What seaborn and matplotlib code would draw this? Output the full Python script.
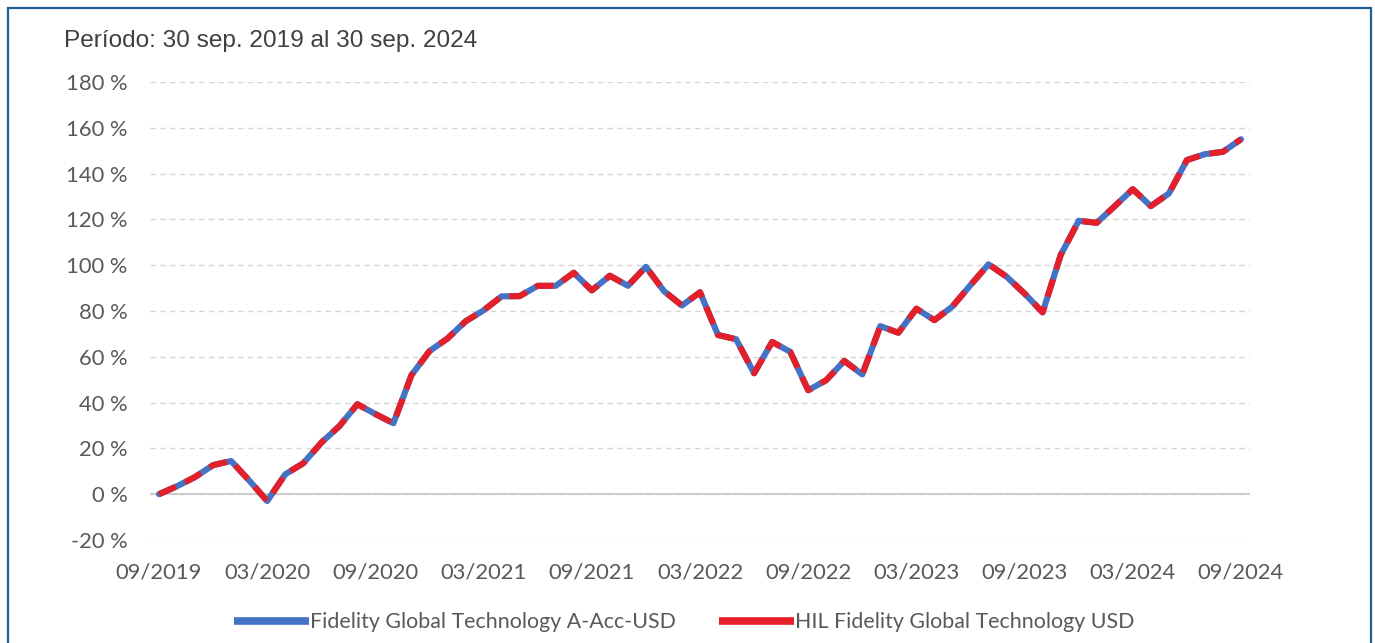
import matplotlib
matplotlib.use("Agg")
import matplotlib.pyplot as plt
from matplotlib.lines import Line2D
from matplotlib.patches import Rectangle
import seaborn as sns
import pandas as pd
import numpy as np

# ---------------- data ----------------
months = list(range(61))  # 0 = 09/2019 ... 60 = 09/2024
fund_values = [0, 3.5, 7.5, 12.7, 14.5, 6, -3, 8.7, 13.5, 22.5,
               29.7, 39.3, 35, 31, 52, 62.5, 68, 75.5, 80.3, 86.4,
               86.5, 91, 91, 96.7, 89, 95.4, 91, 99.3, 88.7, 82.4,
               88.2, 69.5, 67.7, 52.8, 66.5, 62.2, 45.4, 49.8, 58.2, 52.3,
               73.4, 70.5, 81, 76, 82, 91.3, 100.4, 95, 87.6, 79.4,
               104.4, 119.4, 118.5, 125.8, 133.2, 125.8, 131.3, 145.9, 148.5, 149.5,
               155]
hil_values = [0, 3.5, 7.5, 12.7, 14.5, 6, -3, 8.7, 13.5, 22.5,
              29.7, 39.3, 35, 31, 52, 62.5, 68, 75.5, 80.3, 86.4,
              86.5, 91, 91, 96.7, 89, 95.4, 91, 99.3, 88.7, 82.4,
              88.2, 69.5, 67.7, 52.8, 66.5, 62.2, 45.4, 49.8, 58.2, 52.3,
              73.4, 70.5, 81, 76, 82, 91.3, 100.4, 95, 87.6, 79.4,
              104.4, 119.4, 118.5, 125.8, 133.2, 125.8, 131.3, 145.9, 148.5, 149.5,
              155]
series_names = ["Fidelity Global Technology A-Acc-USD", "HIL Fidelity Global Technology USD"]
x_tick_positions = [0, 6, 12, 18, 24, 30, 36, 42, 48, 54, 60]
x_tick_labels = ["09/2019", "03/2020", "09/2020", "03/2021", "09/2021", "03/2022",
                 "09/2022", "03/2023", "09/2023", "03/2024", "09/2024"]
y_ticks = [-20, 0, 20, 40, 60, 80, 100, 120, 140, 160, 180]
title_text = "Período: 30 sep. 2019 al 30 sep. 2024"

# ---------------- style ----------------
sns.set_theme(style="white")
plt.rcParams["font.family"] = ["Lato", "DejaVu Sans"]

BLUE = "#4472C4"
RED = "#E3202A"
TXT = "#595959"

fig = plt.figure(figsize=(13.75, 6.43), dpi=100)
ax = fig.add_axes([150 / 1375, 1 - 540 / 643, 1100 / 1375, (540 - 82) / 643])

df_f = pd.DataFrame({"month": months, "value": fund_values})
df_h = pd.DataFrame({"month": months, "value": hil_values})

LW = 4.4
sns.lineplot(data=df_f, x="month", y="value", ax=ax, color=BLUE, linewidth=LW,
             legend=False, zorder=3)
sns.lineplot(data=df_h, x="month", y="value", ax=ax, color=RED, linewidth=LW,
             legend=False, zorder=4)
red_line = ax.get_lines()[-1]
red_line.set_dashes((3.0, 1.7))
red_line.set_dash_capstyle("butt")
for ln in ax.get_lines():
    ln.set_solid_joinstyle("round")
    ln.set_dash_joinstyle("round")

ax.set_xlim(-0.5, 60.5)
ax.set_ylim(-20, 180)
ax.set_yticks(y_ticks)
ax.set_yticklabels([f"{v} %" for v in y_ticks])
ax.set_xticks(x_tick_positions)
ax.set_xticklabels(x_tick_labels)
ax.set_xlabel("")
ax.set_ylabel("")

for s in ax.spines.values():
    s.set_visible(False)
ax.grid(False)
ax.yaxis.grid(True, color="#D6D6D6", linestyle=(0, (4, 3)), linewidth=1.0)
ax.set_axisbelow(True)
ax.axhline(0, color="#C8C8C8", linewidth=1.3, zorder=2)

ax.tick_params(axis="both", length=0, colors=TXT, labelsize=15.8)
ax.tick_params(axis="y", pad=16)
ax.tick_params(axis="x", pad=16)

fig.text(64 / 1375, 1 - 41 / 643, title_text, fontsize=17.6, color="#404040",
         family=["Liberation Sans", "DejaVu Sans"], ha="left", va="center")

handles = [Line2D([0], [0], color=BLUE, lw=5.5, solid_capstyle="butt"),
           Line2D([0], [0], color=RED, lw=5.5, solid_capstyle="butt")]
leg = fig.legend(handles, series_names, loc="center", bbox_to_anchor=(684 / 1375, 1 - 622 / 643),
                 ncol=2, frameon=False, fontsize=15.4, handlelength=3.5, handletextpad=0.05,
                 columnspacing=2.0)
for t in leg.get_texts():
    t.set_color(TXT)

border = Rectangle((8 / 1375, -0.2), (1371 - 8) / 1375, (1 - 8 / 643) + 0.2,
                   transform=fig.transFigure, fill=False, edgecolor="#1F5F96", linewidth=1.6)
fig.patches.append(border)

fig.savefig("out.png", dpi=100)
